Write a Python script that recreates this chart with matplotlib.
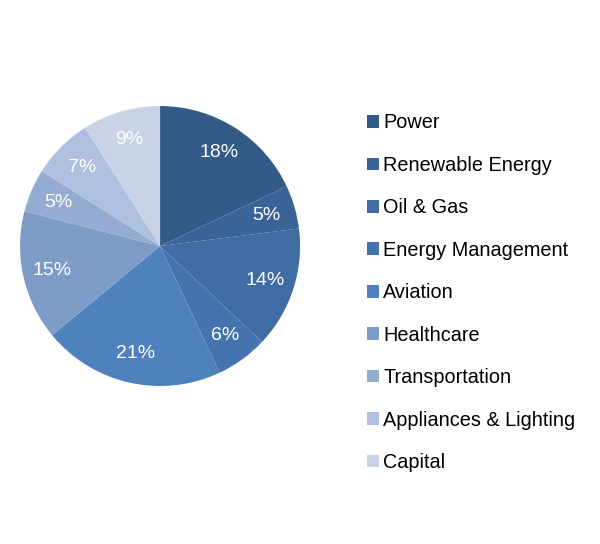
import matplotlib.pyplot as plt
from matplotlib.patches import Patch

plt.rcParams['font.family'] = ['Liberation Sans', 'DejaVu Sans']

# Data sektor
sectors = ['Power', 'Renewable Energy', 'Oil & Gas', 'Energy Management', 'Aviation',
           'Healthcare', 'Transportation', 'Appliances & Lighting', 'Capital']
shares = [18, 5, 14, 6, 21, 15, 5, 7, 9]
colors = ['#345a88', '#3a6397', '#3e6ca3', '#4573ae', '#4f81bd',
          '#7f9cc9', '#95acd2', '#afc0de', '#c9d3e6']

fig = plt.figure(figsize=(6.0, 5.44), dpi=100)

# Pie di kiri
ax = fig.add_axes([0.2667 - 0.2333, 0.5478 - 0.2574, 0.4667, 0.5147])
ax.pie(shares, colors=colors, startangle=90, counterclock=False,
       autopct='%1.0f%%', pctdistance=0.79, radius=1.0,
       wedgeprops=dict(linewidth=0),
       textprops=dict(color='white', fontsize=14))
ax.set_xlim(-1, 1)
ax.set_ylim(-1, 1)
ax.set_aspect('equal')
ax.axis('off')

# Legend di kanan
handles = [Patch(facecolor=c, edgecolor='none') for c in colors]
fig.legend(handles, sectors, loc='upper left', bbox_to_anchor=(0.599, 0.806),
           frameon=False, fontsize=14.3, handlelength=0.6, handleheight=0.6,
           handletextpad=0.2, labelspacing=1.18, borderaxespad=0)

plt.savefig('out.png', dpi=100)
